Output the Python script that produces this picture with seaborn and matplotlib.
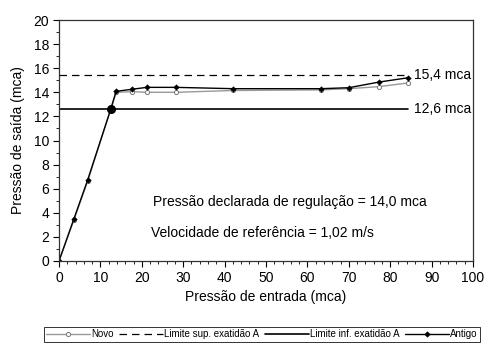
import numpy as np
import pandas as pd
import matplotlib
matplotlib.use("Agg")
import matplotlib.pyplot as plt
import seaborn as sns
from matplotlib.ticker import MultipleLocator

# data
entrada = [0, 3.6, 6.9, 12.5, 13.8, 17.6, 21.2, 28.2, 42.1, 63.3, 70.0, 77.3, 84.2]
novo = [0, 3.4, 6.6, 12.6, 14.0, 14.05, 14.0, 14.0, 14.15, 14.2, 14.3, 14.47, 14.77]
antigo = [0, 3.5, 6.7, 12.6, 14.08, 14.25, 14.41, 14.41, 14.3, 14.3, 14.38, 14.85, 15.2]
limite_x = [0, 84.2]
limite_sup = [15.4, 15.4]
limite_inf = [12.6, 12.6]

sns.set_style("white")
plt.rcParams['font.family'] = ['Liberation Sans', 'DejaVu Sans']
plt.rcParams['font.size'] = 10
plt.rcParams['text.color'] = 'black'
plt.rcParams['axes.labelcolor'] = 'black'
plt.rcParams['xtick.color'] = 'black'
plt.rcParams['ytick.color'] = 'black'

fig = plt.figure(figsize=(4.85, 3.45), dpi=100)
ax = fig.add_axes([59 / 485, 1 - 261 / 345, 414 / 485, 241 / 345])

sns.lineplot(x=entrada, y=novo, ax=ax, sort=False, color='#999999', lw=1.0,
             marker='o', markersize=3, markerfacecolor='white',
             markeredgecolor='#777777', markeredgewidth=0.7, label='Novo')
sns.lineplot(x=limite_x, y=limite_sup, ax=ax, color='black', lw=0.9,
             dashes=(6, 4), label='Limite sup. exatidão A')
sns.lineplot(x=limite_x, y=limite_inf, ax=ax, color='black', lw=1.2,
             label='Limite inf. exatidão A')
sns.lineplot(x=entrada, y=antigo, ax=ax, sort=False, color='black', lw=1.0,
             marker='D', markersize=3.2, markeredgewidth=0, label='Antigo')
ax.plot([entrada[3]], [antigo[3]], 'o', color='black', ms=5.5)

ax.text(85.8, 15.4, '15,4 mca', va='center', ha='left', fontsize=10)
ax.text(85.8, 12.6, '12,6 mca', va='center', ha='left', fontsize=10)
ax.text(22.6, 4.9, 'Pressão declarada de regulação = 14,0 mca', va='center', fontsize=10)
ax.text(22.2, 2.3, 'Velocidade de referência = 1,02 m/s', va='center', fontsize=10)

ax.set_xlim(0, 100)
ax.set_ylim(0, 20)
ax.xaxis.set_major_locator(MultipleLocator(10))
ax.xaxis.set_minor_locator(MultipleLocator(2))
ax.yaxis.set_major_locator(MultipleLocator(2))
ax.yaxis.set_minor_locator(MultipleLocator(1))
ax.tick_params(which='major', direction='out', length=4, width=0.8, left=True, bottom=True,
               pad=3, labelsize=10)
ax.tick_params(which='minor', direction='out', length=2, width=0.6, left=True, bottom=True)
for s in ax.spines.values():
    s.set_color('#333333')
    s.set_linewidth(0.9)

ax.set_xlabel('Pressão de entrada (mca)', fontsize=10, labelpad=4)
ax.set_ylabel('Pressão de saída (mca)', fontsize=10, labelpad=6)

ax.get_legend().remove()
h, l = ax.get_legend_handles_labels()
leg = fig.legend(h, l, loc='lower center', bbox_to_anchor=(0.54, -0.005), ncol=4,
                 fontsize=7, frameon=True, fancybox=False, handlelength=4.5,
                 handletextpad=0.1, columnspacing=0.6, borderpad=0.25)
leg.get_frame().set_edgecolor('black')
leg.get_frame().set_linewidth(0.7)

fig.savefig('out.png', dpi=100, facecolor='white')
